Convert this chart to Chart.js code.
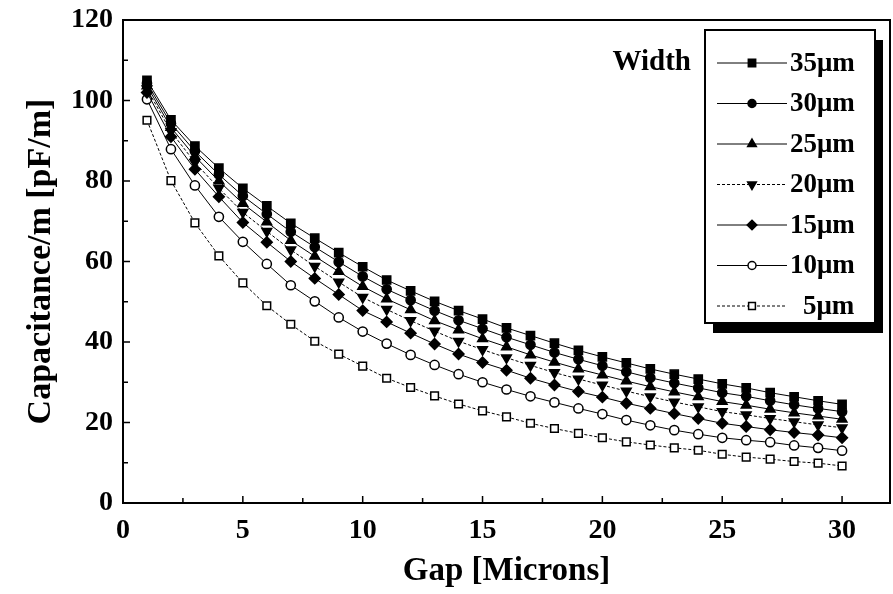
<!DOCTYPE html>
<html lang="en">
<head>
  <meta charset="UTF-8" />
  <title>Capacitance vs Gap</title>
  <script src="https://cdn.jsdelivr.net/npm/chart.js"></script>
  <style>
    html, body { margin: 0; padding: 0; background: #fff; }
    #wrap { width: 893px; height: 594px; }
  </style>
</head>
<body>
  <div id="wrap"><canvas id="capChart" width="893" height="594"></canvas></div>

  <script>
    // gap values (microns) and axis ticks
    const gaps = [1, 2, 3, 4, 5, 6, 7, 8, 9, 10, 11, 12, 13, 14, 15,
                  16, 17, 18, 19, 20, 21, 22, 23, 24, 25, 26, 27, 28, 29, 30];
    const xTicks = [0, 5, 10, 15, 20, 25, 30];
    const yTicks = [0, 20, 40, 60, 80, 100, 120];
    const widthLabels = ["35\u03bcm", "30\u03bcm", "25\u03bcm", "20\u03bcm", "15\u03bcm", "10\u03bcm", "5\u03bcm"];

    // capacitance per metre [pF/m]
    const cap35 = [105.0, 95.2, 88.7, 83.2, 78.2, 73.8, 69.5, 65.8, 62.2, 58.7,
                   55.4, 52.7, 50.1, 47.8, 45.7, 43.5, 41.6, 39.7, 37.9, 36.3,
                   34.8, 33.3, 32.0, 30.8, 29.6, 28.6, 27.4, 26.4, 25.4, 24.5];
    const cap30 = [104.3, 94.3, 87.4, 81.6, 76.3, 71.8, 67.4, 63.6, 59.9, 56.3,
                   53.1, 50.4, 47.8, 45.4, 43.3, 41.2, 39.3, 37.4, 35.7, 34.1,
                   32.6, 31.1, 29.8, 28.6, 27.4, 26.5, 25.4, 24.4, 23.5, 22.7];
    const cap25 = [103.6, 93.3, 86.1, 80.0, 74.4, 69.8, 65.2, 61.3, 57.5, 53.8,
                   50.7, 48.0, 45.3, 43.0, 40.8, 38.8, 36.8, 35.0, 33.3, 31.8,
                   30.3, 28.9, 27.6, 26.4, 25.2, 24.3, 23.3, 22.4, 21.6, 20.8];
    const cap20 = [102.9, 92.3, 84.6, 78.2, 72.2, 67.5, 62.9, 58.8, 54.9, 51.1,
                   48.1, 45.3, 42.7, 40.2, 38.1, 36.1, 34.2, 32.4, 30.8, 29.3,
                   27.8, 26.4, 25.1, 23.9, 22.7, 21.9, 21.0, 20.2, 19.4, 18.7];
    const cap15 = [102.0, 91.0, 82.9, 76.1, 69.7, 64.8, 60.0, 55.8, 51.8, 47.8,
                   45.0, 42.2, 39.5, 37.0, 34.9, 33.0, 31.0, 29.3, 27.7, 26.3,
                   24.8, 23.5, 22.2, 21.0, 19.8, 19.0, 18.2, 17.5, 16.9, 16.2];
    const cap10 = [100.3, 87.9, 78.9, 71.1, 64.9, 59.4, 54.1, 50.1, 46.1, 42.6,
                   39.6, 36.8, 34.3, 32.0, 30.0, 28.2, 26.5, 25.0, 23.5, 22.1,
                   20.6, 19.3, 18.1, 17.1, 16.2, 15.6, 15.1, 14.3, 13.7, 13.0];
    const cap5  = [95.1, 80.1, 69.6, 61.4, 54.7, 49.0, 44.4, 40.2, 37.0, 34.0,
                   31.0, 28.7, 26.6, 24.6, 22.9, 21.4, 19.8, 18.5, 17.3, 16.2,
                   15.2, 14.4, 13.7, 13.1, 12.1, 11.4, 10.9, 10.3, 9.9, 9.2];

    const seriesValues = [cap35, cap30, cap25, cap20, cap15, cap10, cap5];

    // marker look for each width, same order as widthLabels
    const markerStyles = [
      { pointStyle: "rect", radius: 5.8, fill: "#000" },
      { pointStyle: "circle", radius: 4.6, fill: "#000" },
      { pointStyle: "triangle", radius: 5.6, fill: "#000" },
      { pointStyle: "triangle", radius: 5.6, rotation: 180, fill: "#000", dash: [3, 2] },
      { pointStyle: "rectRot", radius: 5.4, fill: "#000" },
      { pointStyle: "circle", radius: 4.6, fill: "#fff" },
      { pointStyle: "rect", radius: 5.4, fill: "#fff", dash: [3, 2] }
    ];

    const serif = "'Liberation Serif', 'DejaVu Serif', serif";

    const datasets = widthLabels.map((label, i) => {
      const st = markerStyles[i];
      return {
        label: label,
        data: gaps.map((g, j) => ({ x: g, y: seriesValues[i][j] })),
        borderColor: "#000",
        borderWidth: 1,
        borderDash: st.dash || [],
        pointStyle: st.pointStyle,
        pointRadius: st.radius,
        pointRotation: st.rotation || 0,
        pointBackgroundColor: st.fill,
        pointBorderColor: "#000",
        pointBorderWidth: 1.5,
        tension: 0,
        fill: false
      };
    });

    // frame, inward ticks and boxed legend
    const framePlugin = {
      id: "frame",
      afterDraw(chart) {
        const { ctx, chartArea: a, scales } = chart;
        const xs = scales.x, ys = scales.y;
        ctx.save();
        ctx.strokeStyle = "#000";
        ctx.lineWidth = 2;
        ctx.strokeRect(a.left, a.top, a.right - a.left, a.bottom - a.top);

        ctx.lineWidth = 1.5;
        ctx.beginPath();
        for (let v = 0; v <= 120; v += 10) {
          const y = ys.getPixelForValue(v);
          const len = v % 20 === 0 ? 7 : 5;
          ctx.moveTo(a.left, y); ctx.lineTo(a.left + len, y);
        }
        for (let v = 0; v <= 30; v += 2.5) {
          const x = xs.getPixelForValue(v);
          const len = v % 5 === 0 ? 7 : 5;
          ctx.moveTo(x, a.bottom); ctx.lineTo(x, a.bottom - len);
        }
        ctx.stroke();

        // legend box with drop shadow
        const bx = 705, by = 30, bw = 170, bh = 293;
        ctx.fillStyle = "#000";
        ctx.fillRect(bx + 8, by + 10, bw, bh);
        ctx.fillStyle = "#fff";
        ctx.fillRect(bx, by, bw, bh);
        ctx.lineWidth = 2;
        ctx.strokeRect(bx, by, bw, bh);

        ctx.fillStyle = "#000";
        ctx.font = "bold 29px " + serif;
        ctx.textAlign = "right";
        ctx.textBaseline = "middle";
        ctx.fillText("Width", 691, 63);

        ctx.font = "bold 27px " + serif;
        ctx.textAlign = "left";
        chart.data.datasets.forEach((ds, i) => {
          const y = 63 + i * 40.5;
          ctx.lineWidth = 1;
          ctx.setLineDash(ds.borderDash);
          ctx.beginPath();
          ctx.moveTo(717, y); ctx.lineTo(787, y);
          ctx.stroke();
          ctx.setLineDash([]);
          ctx.fillStyle = ds.pointBackgroundColor;
          ctx.strokeStyle = "#000";
          ctx.lineWidth = 1.5;
          Chart.helpers.drawPoint(ctx, {
            pointStyle: ds.pointStyle,
            rotation: ds.pointRotation,
            radius: ds.pointRadius - 0.6,
            borderWidth: 1.5
          }, 752, y);
          ctx.fillStyle = "#000";
          ctx.fillText(ds.label, i === 6 ? 803 : 790, y + 1);
        });
        ctx.restore();
      }
    };

    new Chart(document.getElementById("capChart"), {
      type: "line",
      data: { datasets: datasets },
      options: {
        responsive: false,
        animation: false,
        devicePixelRatio: 1,
        layout: { autoPadding: false, padding: { left: 0, right: 3, top: 20, bottom: 0 } },
        plugins: { legend: { display: false }, tooltip: { enabled: false } },
        scales: {
          x: {
            type: "linear",
            min: 0,
            max: 32,
            afterBuildTicks: (s) => { s.ticks = xTicks.map(v => ({ value: v })); },
            afterFit: (s) => { s.height = 91; s.paddingLeft = 0; s.paddingRight = 0; },
            grid: { display: false, drawTicks: false },
            border: { display: false },
            ticks: { color: "#000", padding: 11, font: { family: serif, size: 28, weight: "bold" } },
            title: {
              display: true,
              text: "Gap [Microns]",
              color: "#000",
              padding: { top: 0, bottom: 3 },
              font: { family: serif, size: 33, weight: "bold" }
            }
          },
          y: {
            type: "linear",
            min: 0,
            max: 120,
            afterBuildTicks: (s) => { s.ticks = yTicks.map(v => ({ value: v })); },
            afterFit: (s) => { s.width = 123; s.paddingTop = 0; s.paddingBottom = 0; },
            grid: { display: false, drawTicks: false },
            border: { display: false },
            ticks: { color: "#000", padding: 10, font: { family: serif, size: 28, weight: "bold" } },
            title: {
              display: true,
              text: "Capacitance/m [pF/m]",
              color: "#000",
              padding: { top: 21, bottom: 0 },
              font: { family: serif, size: 34, weight: "bold" }
            }
          }
        }
      },
      plugins: [framePlugin]
    });
  </script>
</body>
</html>
